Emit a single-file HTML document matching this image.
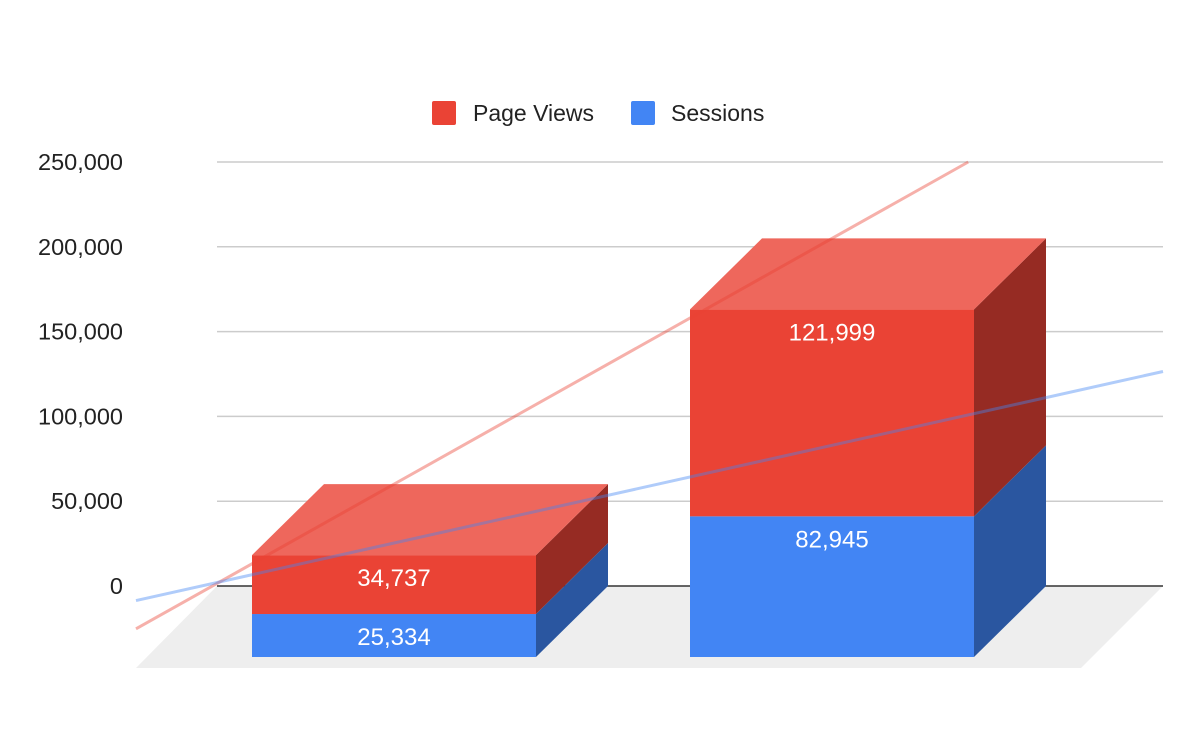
<!DOCTYPE html>
<html><head><meta charset="utf-8"><style>
body{margin:0;background:#fff;}
svg{display:block;font-family:"Liberation Sans",Arial,sans-serif;}
</style></head><body>
<svg id="chart" width="1200" height="742" viewBox="0 0 1200 742" xmlns="http://www.w3.org/2000/svg">
<g id="legend">
<g>
<rect x="432" y="101" width="24" height="24" rx="2" fill="#ea4335"/>
<text x="473" y="121" font-size="23" fill="#222">Page Views</text></g>
<g>
<rect x="631" y="101" width="24" height="24" rx="2" fill="#4285f4"/>
<text x="671" y="121" font-size="23" fill="#222">Sessions</text></g>
</g>
<polygon points="217,586 1163,586 1081,668 136,668" fill="#eeeeee"/>
<g id="grid"></g>
<g id="ylab"></g>
<line x1="217" y1="586" x2="1163" y2="586" stroke="#333" stroke-width="1.5"/>
<g id="bars"></g>
<g id="trends"></g>
<g id="labels"></g>
</svg>
<script>
const categories = ["A", "B"];
const sessions = [25334, 82945];
const pageViews = [34737, 121999];
const yTicks = [0, 50000, 100000, 150000, 200000, 250000];
const yTickLabels = ["0", "50,000", "100,000", "150,000", "200,000", "250,000"];

const NS = "http://www.w3.org/2000/svg";
const y0 = 586, yTop = 162, yMax = 250000;
const y = v => y0 - v / yMax * (y0 - yTop);
const frontLeft = i => 252 + i * 438;
const bw = 284, dx = 72, dy = 71;
function mk(tag, attrs, parent) {
  const el = document.createElementNS(NS, tag);
  for (const k in attrs) el.setAttribute(k, attrs[k]);
  parent.appendChild(el);
  return el;
}
const grid = document.getElementById('grid'), ylab = document.getElementById('ylab');
yTicks.forEach((t, i) => {
  if (t !== 0) {
    const l = mk('line', {x1: 217, x2: 1163, y1: y(t), y2: y(t), stroke: '#ccc', 'stroke-width': 1.5}, grid);
    
    
  }
  const tx = mk('text', {x: 123, y: y(t) + 8, 'text-anchor': 'end', 'font-size': 23.5, fill: '#222'}, ylab);
  tx.textContent = yTickLabels[i];
  
  
});
const bars = document.getElementById('bars'), labels = document.getElementById('labels');
function seg(i, lo, hi, cFront, cSide, cTop, drawTop, name, val) {
  const L = frontLeft(i), R = L + bw;
  const b = y(lo) + dy, t = y(hi) + dy;
  const g = mk('g', {}, bars);
  
  
  mk('rect', {x: L, y: t, width: bw, height: b - t, fill: cFront}, g);
  mk('polygon', {points: `${R},${b} ${R + dx},${b - dy} ${R + dx},${t - dy} ${R},${t}`, fill: cSide}, g);
  if (drawTop) mk('polygon', {points: `${L},${t} ${R},${t} ${R + dx},${t - dy} ${L + dx},${t - dy}`, fill: cTop}, g);
  const tx = mk('text', {x: L + bw / 2, y: t + 31, 'text-anchor': 'middle', 'font-size': 24, 'font-weight': 500, fill: '#fff'}, labels);
  tx.textContent = val.toLocaleString('en-US');
  
  
}
categories.forEach((c, i) => {
  seg(i, 0, sessions[i], '#4285f4', '#2a56a0', '#6fa0f6', false, 'bar-sessions-' + i, sessions[i]);
  seg(i, sessions[i], sessions[i] + pageViews[i], '#ea4335', '#962b23', '#ee675c', true, 'bar-page-views-' + i, pageViews[i]);
});
const trends = document.getElementById('trends');
function trend(vals, color, name) {
  const x1 = frontLeft(0) + bw / 2, x2 = frontLeft(1) + bw / 2;
  const y1 = y(vals[0]), y2 = y(vals[1]);
  const m = (y2 - y1) / (x2 - x1);
  let xa = 136, xb = 1163;
  let ya = y1 + m * (xa - x1), yb = y1 + m * (xb - x1);
  if (yb < yTop) { xb = x1 + (yTop - y1) / m; yb = yTop; }
  const l = mk('line', {x1: xa, y1: ya, x2: xb, y2: yb, stroke: color, 'stroke-width': 3, 'stroke-opacity': 0.42}, trends);
  
  
}
trend(categories.map((c, i) => sessions[i] + pageViews[i]), '#ea4335', 'trendline-page-views');
trend(sessions, '#4285f4', 'trendline-sessions');
</script>
</body></html>
